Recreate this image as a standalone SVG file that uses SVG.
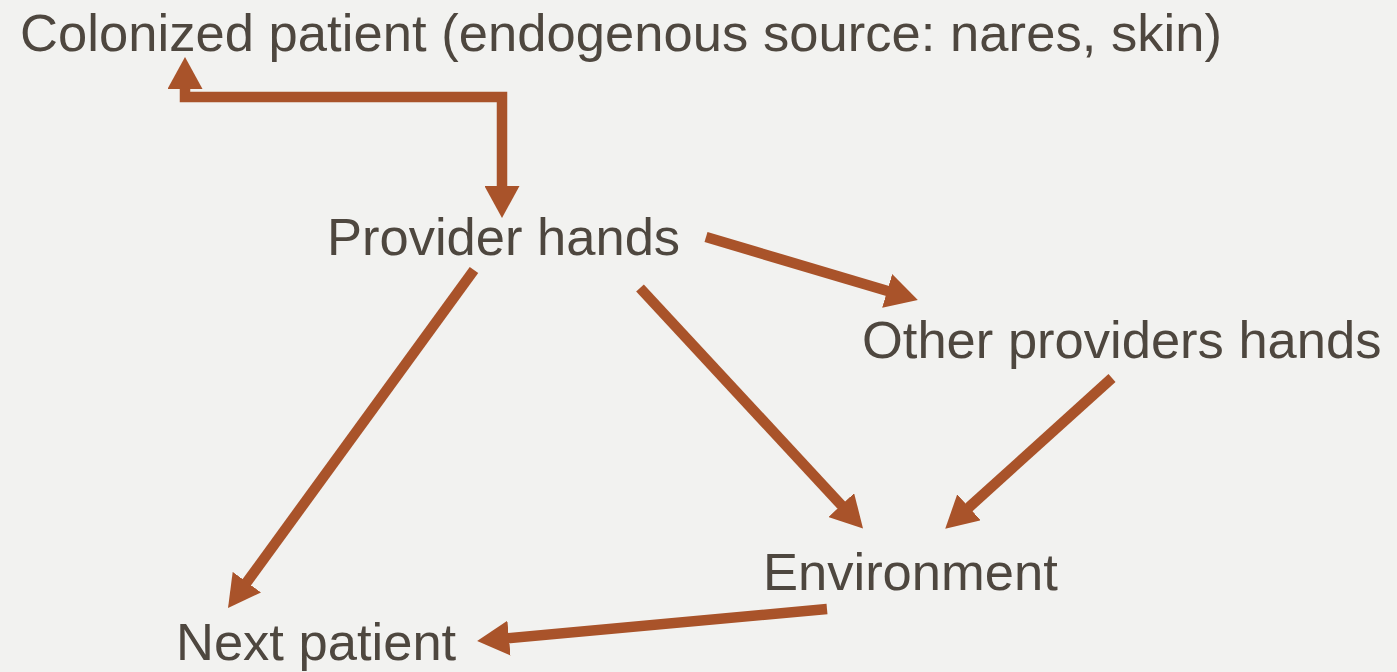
<svg xmlns="http://www.w3.org/2000/svg" width="1397" height="672" viewBox="0 0 1397 672">
<defs>
<style>
.lbl{font-family:"Liberation Sans",Arial,sans-serif;font-size:52.5px;fill:#4E473F}
.arr{fill:none;stroke:#A9532A;stroke-width:10.5;stroke-linejoin:miter;marker-end:url(#ah)}
</style>
<marker id="ah" markerUnits="userSpaceOnUse" markerWidth="32" markerHeight="35" viewBox="0 0 32 35" refX="4" refY="17.5" orient="auto-start-reverse">
<path d="M0,0 L32,17.5 L0,35 z" fill="#A9532A"/>
</marker>
</defs>
<rect width="1397" height="672" fill="#F2F2F0"/>
<g id="connectors">
<path class="arr" d="M185,85 L185,97 L502,97 L502,190" marker-start="url(#ah)"/>
<path class="arr" d="M706,237 L891,292"/>
<path class="arr" d="M640,288 L844,508"/>
<path class="arr" d="M1112,378 L966,510"/>
<path class="arr" d="M474,270 L244.5,585.4"/>
<path class="arr" d="M827,609 L505,638.5"/>
</g>
<g id="colonized"><text class="lbl" x="20" y="51" textLength="1202">Colonized patient (endogenous source: nares, skin)</text></g>
<g id="provider"><text class="lbl" x="327" y="255">Provider hands</text></g>
<g id="other"><text class="lbl" x="862" y="358">Other providers hands</text></g>
<g id="environment"><text class="lbl" x="763" y="590">Environment</text></g>
<g id="next"><text class="lbl" x="176" y="660">Next patient</text></g>
</svg>
